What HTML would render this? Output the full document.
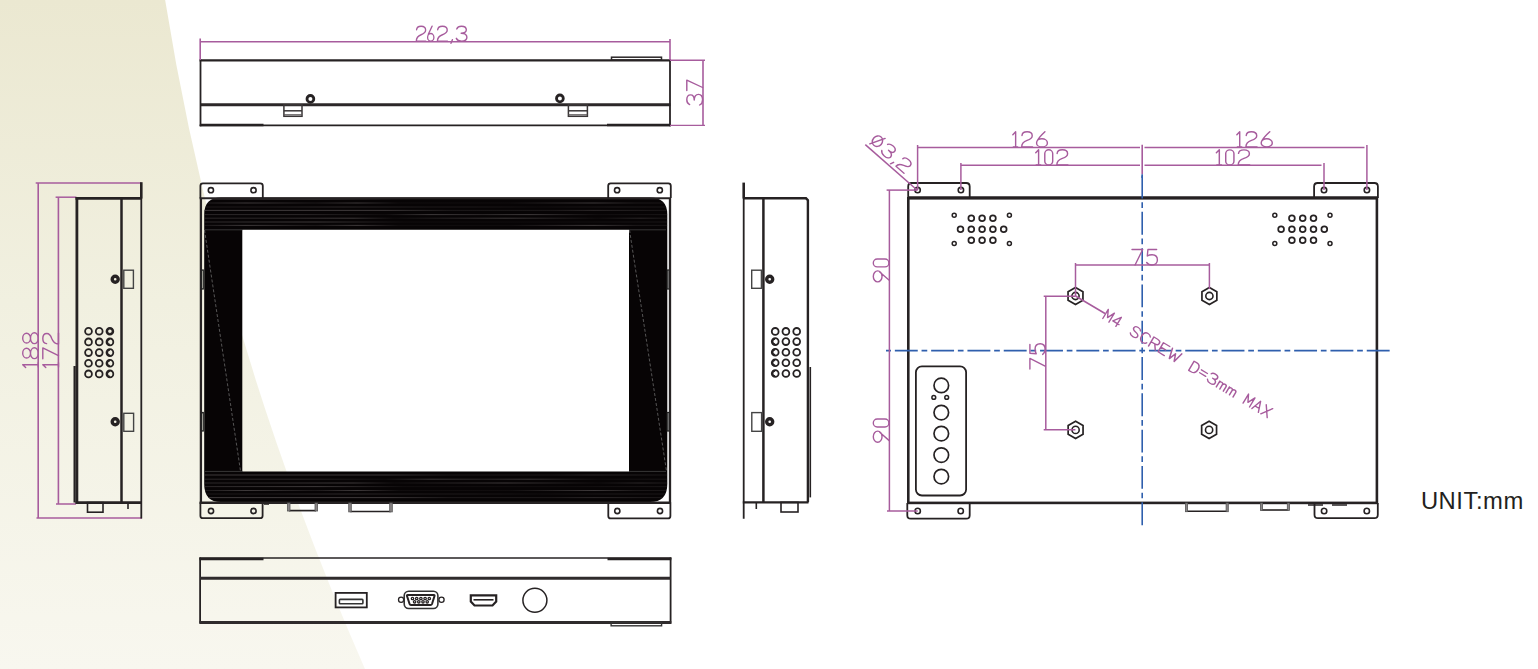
<!DOCTYPE html>
<html><head><meta charset="utf-8"><title>Monitor dimensions</title>
<style>html,body{margin:0;padding:0;background:#fff;width:1538px;height:669px;overflow:hidden;font-family:"Liberation Sans",sans-serif;}</style>
</head><body>
<svg width="1538" height="669" viewBox="0 0 1538 669" style="display:block"><defs><linearGradient id="bg" x1="0" y1="0" x2="0" y2="1"><stop offset="0" stop-color="#ebe8d1"/><stop offset="0.45" stop-color="#f1f0e0"/><stop offset="1" stop-color="#f8f7ef"/></linearGradient></defs>
<rect x="0" y="0" width="1538" height="669" fill="#ffffff"/>
<path d="M0,0L165.13,0Q218.41,334.5 364.98,669L0,669Z" fill="url(#bg)"/>
<line x1="199.6" y1="60.3" x2="670.8" y2="60.3" stroke="#262223" stroke-width="2.2" />
<line x1="200.5" y1="104.8" x2="670.5" y2="104.8" stroke="#2c2829" stroke-width="2.9" />
<line x1="199.6" y1="125.4" x2="670.8" y2="125.4" stroke="#262223" stroke-width="1.6" />
<line x1="200" y1="125" x2="263.5" y2="125" stroke="#262223" stroke-width="2.6" />
<line x1="607" y1="125" x2="670.5" y2="125" stroke="#262223" stroke-width="2.6" />
<line x1="200.5" y1="59.3" x2="200.5" y2="126.3" stroke="#262223" stroke-width="1.8" />
<line x1="670" y1="59.3" x2="670" y2="126.3" stroke="#262223" stroke-width="1.8" />
<circle cx="310.4" cy="98.9" r="3.4" stroke="#262223" stroke-width="2.8" fill="none"/>
<circle cx="559.9" cy="98.4" r="3.4" stroke="#262223" stroke-width="2.8" fill="none"/>
<rect x="283.9" y="104.8" width="18.1" height="11.5" rx="0" stroke="#3a3637" stroke-width="1.5" fill="none"/>
<line x1="283.9" y1="110.8" x2="302" y2="110.8" stroke="#3a3637" stroke-width="1.5" />
<line x1="283.9" y1="114.8" x2="302" y2="114.8" stroke="#5a5657" stroke-width="1.2" />
<rect x="568.4" y="104.8" width="19" height="11.5" rx="0" stroke="#3a3637" stroke-width="1.5" fill="none"/>
<line x1="568.4" y1="110.8" x2="587.4" y2="110.8" stroke="#3a3637" stroke-width="1.5" />
<line x1="568.4" y1="114.8" x2="587.4" y2="114.8" stroke="#5a5657" stroke-width="1.2" />
<rect x="611.5" y="57.2" width="50" height="2.8" rx="0" stroke="#2a2627" stroke-width="1.5" fill="none"/>
<line x1="200.2" y1="41.7" x2="670" y2="41.7" stroke="#a75c9d" stroke-width="1.6" />
<line x1="200.2" y1="38.5" x2="200.2" y2="60" stroke="#a75c9d" stroke-width="1.6" />
<line x1="670" y1="39" x2="670" y2="60" stroke="#a75c9d" stroke-width="1.6" />
<g stroke="#a75c9d" fill="none" stroke-linecap="round" stroke-linejoin="round"><path transform="translate(416.3,41.2) scale(1.3714,1.5000)" d="M0.2,-7.6C0.3,-9.2 1.6,-10 3.5,-10C5.6,-10 6.8,-9 6.8,-7.4C6.8,-5.7 5.3,-4.9 3.5,-4.3C1.3,-3.5 0,-2.5 0,0L7,0" stroke-width="0.976"/><path transform="translate(427.6,41.2) scale(1.2600,1.5000)" d="M3.6,-10L0.5,-4.6M0,-2.55A2.5,2.55 0 1 0 5,-2.55A2.5,2.55 0 1 0 0,-2.55Z" stroke-width="1.018"/><path transform="translate(437.4,41.2) scale(1.4429,1.5000)" d="M0.2,-7.6C0.3,-9.2 1.6,-10 3.5,-10C5.6,-10 6.8,-9 6.8,-7.4C6.8,-5.7 5.3,-4.9 3.5,-4.3C1.3,-3.5 0,-2.5 0,0L7,0" stroke-width="0.952"/><path transform="translate(450.5,41.2) scale(1.5714,1.5000)" d="M1.2,-1L0.3,1.4" stroke-width="0.912"/><path transform="translate(456.3,41.2) scale(1.4722,1.5000)" d="M0.3,-8.2C0.8,-9.5 2,-10 3.5,-10C5.5,-10 6.8,-9.1 6.8,-7.6C6.8,-6.1 5.5,-5.3 3.3,-5.3C5.8,-5.3 7.2,-4.3 7.2,-2.6C7.2,-1 5.8,0 3.6,0C1.8,0 0.6,-0.7 0,-1.9" stroke-width="0.942"/></g>
<line x1="703" y1="60.3" x2="703" y2="125.4" stroke="#a75c9d" stroke-width="1.6" />
<line x1="670" y1="60.3" x2="705" y2="60.3" stroke="#a75c9d" stroke-width="1.4" />
<line x1="670" y1="125.4" x2="705" y2="125.4" stroke="#a75c9d" stroke-width="1.4" />
<g transform="translate(702.6,105) rotate(-90) scale(1.4821,1.5800)" stroke="#a75c9d" stroke-width="0.915" fill="none" stroke-linecap="round" stroke-linejoin="round"><path transform="translate(0,0)" d="M0.3,-8.2C0.8,-9.5 2,-10 3.5,-10C5.5,-10 6.8,-9.1 6.8,-7.6C6.8,-6.1 5.5,-5.3 3.3,-5.3C5.8,-5.3 7.2,-4.3 7.2,-2.6C7.2,-1 5.8,0 3.6,0C1.8,0 0.6,-0.7 0,-1.9"/><path transform="translate(9.8,0)" d="M0,-10L7,-10L2,0"/></g>
<line x1="38.2" y1="183" x2="38.2" y2="518.1" stroke="#a75c9d" stroke-width="1.6" />
<line x1="35.7" y1="183" x2="141.4" y2="183" stroke="#a75c9d" stroke-width="1.5" />
<line x1="36.5" y1="518.1" x2="142" y2="518.1" stroke="#a75c9d" stroke-width="1.5" />
<line x1="58.4" y1="197.2" x2="58.4" y2="504" stroke="#a75c9d" stroke-width="1.6" />
<line x1="55.6" y1="197.2" x2="76.4" y2="197.2" stroke="#a75c9d" stroke-width="1.5" />
<line x1="56" y1="504" x2="76" y2="504" stroke="#a75c9d" stroke-width="1.5" />
<g transform="translate(38.3,367.7) rotate(-90) scale(1.5625,1.5600)" stroke="#a75c9d" stroke-width="0.897" fill="none" stroke-linecap="round" stroke-linejoin="round"><path transform="translate(0,0)" d="M0.1,-8.1L1.9,-10L1.9,0M0.4,0L3.2,0"/><path transform="translate(5.8,0)" d="M3.5,-10A3.1,2.5 0 1 0 3.5,-5A3.1,2.5 0 1 0 3.5,-10ZM3.5,-5A3.5,2.5 0 1 0 3.5,0A3.5,2.5 0 1 0 3.5,-5Z"/><path transform="translate(15.4,0)" d="M3.5,-10A3.1,2.5 0 1 0 3.5,-5A3.1,2.5 0 1 0 3.5,-10ZM3.5,-5A3.5,2.5 0 1 0 3.5,0A3.5,2.5 0 1 0 3.5,-5Z"/></g>
<g transform="translate(58.5,367.7) rotate(-90) scale(1.5402,1.5700)" stroke="#a75c9d" stroke-width="0.900" fill="none" stroke-linecap="round" stroke-linejoin="round"><path transform="translate(0,0)" d="M0.1,-8.1L1.9,-10L1.9,0M0.4,0L3.2,0"/><path transform="translate(5.8,0)" d="M0,-10L7,-10L2,0"/><path transform="translate(15.4,0)" d="M0.2,-7.6C0.3,-9.2 1.6,-10 3.5,-10C5.6,-10 6.8,-9 6.8,-7.4C6.8,-5.7 5.3,-4.9 3.5,-4.3C1.3,-3.5 0,-2.5 0,0L7,0"/></g>
<line x1="76.9" y1="197" x2="76.9" y2="503.5" stroke="#262223" stroke-width="2.8" />
<line x1="74.6" y1="366" x2="74.6" y2="502.5" stroke="#262223" stroke-width="2.2" />
<line x1="75.5" y1="198.4" x2="141.4" y2="198.4" stroke="#262223" stroke-width="2.6" />
<line x1="141.3" y1="182.2" x2="141.3" y2="198.5" stroke="#262223" stroke-width="2.6" />
<line x1="141.3" y1="198" x2="141.3" y2="518.5" stroke="#262223" stroke-width="1.8" />
<line x1="121.5" y1="197.7" x2="121.5" y2="503" stroke="#262223" stroke-width="2.5" />
<line x1="75.5" y1="502.6" x2="142" y2="502.6" stroke="#262223" stroke-width="2.6" />
<circle cx="115.2" cy="279.3" r="3" stroke="#262223" stroke-width="3.4" fill="none"/>
<circle cx="115.2" cy="421.8" r="3" stroke="#262223" stroke-width="3.4" fill="none"/>
<rect x="123.8" y="270.2" width="9.6" height="18.1" rx="0" stroke="#444" stroke-width="1.4" fill="none"/>
<rect x="123.8" y="413.3" width="9.8" height="18" rx="0" stroke="#444" stroke-width="1.4" fill="none"/>
<circle cx="88.5" cy="331.2" r="3.4" stroke="#262223" stroke-width="1.8" fill="none"/>
<circle cx="99.2" cy="331.2" r="3.4" stroke="#262223" stroke-width="1.8" fill="none"/>
<circle cx="109.9" cy="331.2" r="3.4" stroke="#262223" stroke-width="1.8" fill="none"/>
<path d="M109.9,328.6A2.6,2.6 0 0 0 109.9,333.8" stroke="#262223" stroke-width="1.6" fill="none" />
<path d="M109.9,328.6A2.6,2.6 0 0 1 109.9,333.8" stroke="#262223" stroke-width="1.6" fill="none" />
<circle cx="88.5" cy="341.9" r="3.4" stroke="#262223" stroke-width="1.8" fill="none"/>
<circle cx="99.2" cy="341.9" r="3.4" stroke="#262223" stroke-width="1.8" fill="none"/>
<circle cx="109.9" cy="341.9" r="3.4" stroke="#262223" stroke-width="1.8" fill="none"/>
<path d="M109.9,339.3A2.6,2.6 0 0 0 109.9,344.5" stroke="#262223" stroke-width="1.6" fill="none" />
<circle cx="88.5" cy="352.6" r="3.4" stroke="#262223" stroke-width="1.8" fill="none"/>
<circle cx="99.2" cy="352.6" r="3.4" stroke="#262223" stroke-width="1.8" fill="none"/>
<circle cx="109.9" cy="352.6" r="3.4" stroke="#262223" stroke-width="1.8" fill="none"/>
<path d="M109.9,350A2.6,2.6 0 0 0 109.9,355.2" stroke="#262223" stroke-width="1.6" fill="none" />
<circle cx="88.5" cy="363.2" r="3.4" stroke="#262223" stroke-width="1.8" fill="none"/>
<circle cx="99.2" cy="363.2" r="3.4" stroke="#262223" stroke-width="1.8" fill="none"/>
<circle cx="109.9" cy="363.2" r="3.4" stroke="#262223" stroke-width="1.8" fill="none"/>
<path d="M109.9,360.6A2.6,2.6 0 0 0 109.9,365.8" stroke="#262223" stroke-width="1.6" fill="none" />
<circle cx="88.5" cy="373.9" r="3.4" stroke="#262223" stroke-width="1.8" fill="none"/>
<circle cx="99.2" cy="373.9" r="3.4" stroke="#262223" stroke-width="1.8" fill="none"/>
<circle cx="109.9" cy="373.9" r="3.4" stroke="#262223" stroke-width="1.8" fill="none"/>
<path d="M109.9,371.3A2.6,2.6 0 0 0 109.9,376.5" stroke="#262223" stroke-width="1.6" fill="none" />
<rect x="87.5" y="502.6" width="15.5" height="9.6" rx="0" stroke="#262223" stroke-width="1.6" fill="none"/>
<line x1="128" y1="502.6" x2="128" y2="509" stroke="#262223" stroke-width="1.6" />
<path d="M200.4,198L200.4,185.8Q200.4,183.3 202.9,183.3L260.3,183.3Q262.8,183.3 262.8,185.8L262.8,198" stroke="#262223" stroke-width="1.8" fill="none" />
<path d="M608.2,198L608.2,185.8Q608.2,183.3 610.7,183.3L668.3,183.3Q670.8,183.3 670.8,185.8L670.8,198" stroke="#262223" stroke-width="1.8" fill="none" />
<path d="M200.4,502.5L200.4,515.7Q200.4,518.2 202.9,518.2L260.1,518.2Q262.6,518.2 262.6,515.7L262.6,502.5" stroke="#262223" stroke-width="1.8" fill="none" />
<path d="M608.3,502.5L608.3,515.9Q608.3,518.4 610.8,518.4L667.9,518.4Q670.4,518.4 670.4,515.9L670.4,502.5" stroke="#262223" stroke-width="1.8" fill="none" />
<circle cx="210.9" cy="190.2" r="2.6" stroke="#262223" stroke-width="1.6" fill="none"/>
<circle cx="253.5" cy="190.2" r="2.6" stroke="#262223" stroke-width="1.6" fill="none"/>
<circle cx="617.1" cy="190.2" r="2.6" stroke="#262223" stroke-width="1.6" fill="none"/>
<circle cx="659.8" cy="190.2" r="2.6" stroke="#262223" stroke-width="1.6" fill="none"/>
<circle cx="211" cy="511" r="2.6" stroke="#262223" stroke-width="1.6" fill="none"/>
<circle cx="253.5" cy="511" r="2.6" stroke="#262223" stroke-width="1.6" fill="none"/>
<circle cx="617.3" cy="511" r="2.6" stroke="#262223" stroke-width="1.6" fill="none"/>
<circle cx="660" cy="511" r="2.6" stroke="#262223" stroke-width="1.6" fill="none"/>
<clipPath id="bzc"><path d="M221,197.5L650,197.5Q667.3,197.5 667.3,214.5L667.3,484Q667.3,502 650,502L221,502Q204.2,502 204.2,484L204.2,214.5Q204.2,197.5 221,197.5Z"/></clipPath>
<path d="M221,197.5L650,197.5Q667.3,197.5 667.3,214.5L667.3,484Q667.3,502 650,502L221,502Q204.2,502 204.2,484L204.2,214.5Q204.2,197.5 221,197.5ZM242.3,229.8L242.3,471.4L629,471.4L629,229.8Z" fill="#070405" fill-rule="evenodd"/>
<linearGradient id="sg0" gradientUnits="userSpaceOnUse" x1="204" y1="0" x2="668" y2="0"><stop offset="0.00" stop-color="#4a4546" stop-opacity="0.6"/><stop offset="0.24" stop-color="#4a4546" stop-opacity="0.9"/><stop offset="0.43" stop-color="#4a4546" stop-opacity="0.15"/><stop offset="0.65" stop-color="#4a4546" stop-opacity="0.15"/><stop offset="0.79" stop-color="#4a4546" stop-opacity="0.15"/><stop offset="1" stop-color="#4a4546" stop-opacity="0.3"/></linearGradient>
<linearGradient id="sg1" gradientUnits="userSpaceOnUse" x1="204" y1="0" x2="668" y2="0"><stop offset="0.00" stop-color="#4a4546" stop-opacity="0.35"/><stop offset="0.09" stop-color="#4a4546" stop-opacity="0.9"/><stop offset="0.24" stop-color="#4a4546" stop-opacity="0.35"/><stop offset="0.33" stop-color="#4a4546" stop-opacity="0.9"/><stop offset="0.42" stop-color="#4a4546" stop-opacity="0.15"/><stop offset="0.66" stop-color="#4a4546" stop-opacity="0.15"/><stop offset="0.84" stop-color="#4a4546" stop-opacity="0.9"/><stop offset="0.93" stop-color="#4a4546" stop-opacity="0.35"/><stop offset="1" stop-color="#4a4546" stop-opacity="0.3"/></linearGradient>
<linearGradient id="sg2" gradientUnits="userSpaceOnUse" x1="204" y1="0" x2="668" y2="0"><stop offset="0.00" stop-color="#4a4546" stop-opacity="0.35"/><stop offset="0.13" stop-color="#4a4546" stop-opacity="0.35"/><stop offset="0.30" stop-color="#4a4546" stop-opacity="0.6"/><stop offset="0.48" stop-color="#4a4546" stop-opacity="0.35"/><stop offset="0.57" stop-color="#4a4546" stop-opacity="0.35"/><stop offset="0.72" stop-color="#4a4546" stop-opacity="0.15"/><stop offset="0.89" stop-color="#4a4546" stop-opacity="0.35"/><stop offset="1" stop-color="#4a4546" stop-opacity="0.3"/></linearGradient>
<linearGradient id="sg3" gradientUnits="userSpaceOnUse" x1="204" y1="0" x2="668" y2="0"><stop offset="0.00" stop-color="#4a4546" stop-opacity="0.9"/><stop offset="0.21" stop-color="#4a4546" stop-opacity="0.9"/><stop offset="0.39" stop-color="#4a4546" stop-opacity="0.9"/><stop offset="0.53" stop-color="#4a4546" stop-opacity="0.35"/><stop offset="0.75" stop-color="#4a4546" stop-opacity="0.35"/><stop offset="0.84" stop-color="#4a4546" stop-opacity="0.6"/><stop offset="1" stop-color="#4a4546" stop-opacity="0.3"/></linearGradient>
<linearGradient id="sg4" gradientUnits="userSpaceOnUse" x1="204" y1="0" x2="668" y2="0"><stop offset="0.00" stop-color="#4a4546" stop-opacity="0.6"/><stop offset="0.20" stop-color="#4a4546" stop-opacity="0.6"/><stop offset="0.39" stop-color="#4a4546" stop-opacity="0.15"/><stop offset="0.49" stop-color="#4a4546" stop-opacity="0.9"/><stop offset="0.60" stop-color="#4a4546" stop-opacity="0.6"/><stop offset="0.70" stop-color="#4a4546" stop-opacity="0.9"/><stop offset="0.85" stop-color="#4a4546" stop-opacity="0.15"/><stop offset="1" stop-color="#4a4546" stop-opacity="0.3"/></linearGradient>
<linearGradient id="sg5" gradientUnits="userSpaceOnUse" x1="204" y1="0" x2="668" y2="0"><stop offset="0.00" stop-color="#4a4546" stop-opacity="0.6"/><stop offset="0.14" stop-color="#4a4546" stop-opacity="0.6"/><stop offset="0.32" stop-color="#4a4546" stop-opacity="0.9"/><stop offset="0.41" stop-color="#4a4546" stop-opacity="0.15"/><stop offset="0.65" stop-color="#4a4546" stop-opacity="0.9"/><stop offset="0.85" stop-color="#4a4546" stop-opacity="0.15"/><stop offset="0.94" stop-color="#4a4546" stop-opacity="0.6"/><stop offset="1" stop-color="#4a4546" stop-opacity="0.3"/></linearGradient>
<g clip-path="url(#bzc)">
<line x1="204" y1="199.2" x2="668" y2="199.2" stroke="url(#sg0)" stroke-width="0.9"/>
<line x1="204" y1="203" x2="668" y2="203" stroke="url(#sg1)" stroke-width="0.9"/>
<line x1="204" y1="207" x2="668" y2="207" stroke="url(#sg2)" stroke-width="0.9"/>
<line x1="204" y1="210.4" x2="668" y2="210.4" stroke="url(#sg3)" stroke-width="0.9"/>
<line x1="204" y1="214.6" x2="668" y2="214.6" stroke="url(#sg4)" stroke-width="0.9"/>
<line x1="204" y1="218.2" x2="668" y2="218.2" stroke="url(#sg5)" stroke-width="0.9"/>
<line x1="204" y1="222" x2="668" y2="222" stroke="url(#sg0)" stroke-width="0.9"/>
<line x1="204" y1="225.4" x2="668" y2="225.4" stroke="url(#sg1)" stroke-width="0.9"/>
<line x1="204" y1="475" x2="668" y2="475" stroke="url(#sg3)" stroke-width="0.9"/>
<line x1="204" y1="479.2" x2="668" y2="479.2" stroke="url(#sg4)" stroke-width="0.9"/>
<line x1="204" y1="483" x2="668" y2="483" stroke="url(#sg5)" stroke-width="0.9"/>
<line x1="204" y1="486.6" x2="668" y2="486.6" stroke="url(#sg0)" stroke-width="0.9"/>
<line x1="204" y1="490.5" x2="668" y2="490.5" stroke="url(#sg1)" stroke-width="0.9"/>
<line x1="204" y1="494" x2="668" y2="494" stroke="url(#sg2)" stroke-width="0.9"/>
<line x1="204" y1="497.6" x2="668" y2="497.6" stroke="url(#sg3)" stroke-width="0.9"/>
</g>
<line x1="204.5" y1="230" x2="240.5" y2="471" stroke="#777" stroke-width="0.7" stroke-dasharray="3 2"/>
<line x1="629.5" y1="230" x2="666.5" y2="471" stroke="#777" stroke-width="0.7" stroke-dasharray="3 2"/>
<line x1="205" y1="229.8" x2="242.3" y2="229.8" stroke="#444" stroke-width="0.8" />
<line x1="629" y1="229.8" x2="666" y2="229.8" stroke="#444" stroke-width="0.8" />
<line x1="205" y1="471.4" x2="242.3" y2="471.4" stroke="#444" stroke-width="0.8" />
<line x1="629" y1="471.4" x2="666" y2="471.4" stroke="#444" stroke-width="0.8" />
<line x1="199.6" y1="198.2" x2="671" y2="198.2" stroke="#262223" stroke-width="2" />
<line x1="199.6" y1="502.7" x2="671" y2="502.7" stroke="#262223" stroke-width="2.4" />
<line x1="200.9" y1="198" x2="200.9" y2="503" stroke="#262223" stroke-width="2.3" />
<line x1="670" y1="198" x2="670" y2="503" stroke="#262223" stroke-width="2.3" />
<rect x="201.5" y="270" width="1.8" height="19" rx="0" stroke="#222" stroke-width="1.2" fill="none"/>
<rect x="667.2" y="270" width="1.8" height="19" rx="0" stroke="#222" stroke-width="1.2" fill="none"/>
<rect x="201.5" y="412.5" width="1.8" height="18.5" rx="0" stroke="#222" stroke-width="1.2" fill="none"/>
<rect x="667.2" y="412.5" width="1.8" height="18.5" rx="0" stroke="#222" stroke-width="1.2" fill="none"/>
<line x1="288.9" y1="510.6" x2="316.1" y2="510.6" stroke="#262223" stroke-width="1.7" />
<rect x="287.4" y="503" width="2.6" height="8" rx="0" stroke="#555" stroke-width="0.8" fill="#8a8687"/>
<rect x="315" y="503" width="2.6" height="8" rx="0" stroke="#555" stroke-width="0.8" fill="#8a8687"/>
<line x1="350.2" y1="511.5" x2="390.8" y2="511.5" stroke="#262223" stroke-width="1.7" />
<rect x="348.7" y="503" width="2.6" height="8.9" rx="0" stroke="#555" stroke-width="0.8" fill="#8a8687"/>
<rect x="389.7" y="503" width="2.6" height="8.9" rx="0" stroke="#555" stroke-width="0.8" fill="#8a8687"/>
<line x1="264" y1="504" x2="269" y2="504" stroke="#262223" stroke-width="1.6" />
<line x1="743.7" y1="182.6" x2="743.7" y2="198.5" stroke="#262223" stroke-width="2.6" />
<line x1="743.7" y1="198" x2="743.7" y2="518.8" stroke="#262223" stroke-width="1.8" />
<path d="M743.7,198.3L806,198.3L807.9,200.2L807.9,502.3" stroke="#262223" stroke-width="2.4" fill="none" />
<line x1="763.4" y1="197.7" x2="763.4" y2="502.5" stroke="#262223" stroke-width="2.5" />
<line x1="810.3" y1="367" x2="810.3" y2="497.4" stroke="#262223" stroke-width="1.6" />
<line x1="742.8" y1="502.4" x2="808.5" y2="502.4" stroke="#262223" stroke-width="2.4" />
<rect x="751.7" y="270.2" width="9.7" height="18.1" rx="0" stroke="#444" stroke-width="1.4" fill="none"/>
<rect x="751.8" y="412.6" width="9.8" height="18.7" rx="0" stroke="#444" stroke-width="1.4" fill="none"/>
<circle cx="769.7" cy="279.3" r="3" stroke="#262223" stroke-width="3.4" fill="none"/>
<circle cx="769.7" cy="421.8" r="3" stroke="#262223" stroke-width="3.4" fill="none"/>
<circle cx="775.2" cy="331.4" r="3.4" stroke="#262223" stroke-width="1.8" fill="none"/>
<circle cx="785.9" cy="331.4" r="3.4" stroke="#262223" stroke-width="1.8" fill="none"/>
<circle cx="796.7" cy="331.4" r="3.4" stroke="#262223" stroke-width="1.8" fill="none"/>
<circle cx="775.2" cy="341.6" r="3.4" stroke="#262223" stroke-width="1.8" fill="none"/>
<path d="M775.2,339A2.6,2.6 0 0 0 775.2,344.2" stroke="#262223" stroke-width="1.6" fill="none" />
<circle cx="785.9" cy="341.6" r="3.4" stroke="#262223" stroke-width="1.8" fill="none"/>
<circle cx="796.7" cy="341.6" r="3.4" stroke="#262223" stroke-width="1.8" fill="none"/>
<circle cx="775.2" cy="352.2" r="3.4" stroke="#262223" stroke-width="1.8" fill="none"/>
<path d="M775.2,349.6A2.6,2.6 0 0 0 775.2,354.8" stroke="#262223" stroke-width="1.6" fill="none" />
<circle cx="785.9" cy="352.2" r="3.4" stroke="#262223" stroke-width="1.8" fill="none"/>
<circle cx="796.7" cy="352.2" r="3.4" stroke="#262223" stroke-width="1.8" fill="none"/>
<circle cx="775.2" cy="362.7" r="3.4" stroke="#262223" stroke-width="1.8" fill="none"/>
<path d="M775.2,360.1A2.6,2.6 0 0 0 775.2,365.3" stroke="#262223" stroke-width="1.6" fill="none" />
<circle cx="785.9" cy="362.7" r="3.4" stroke="#262223" stroke-width="1.8" fill="none"/>
<circle cx="796.7" cy="362.7" r="3.4" stroke="#262223" stroke-width="1.8" fill="none"/>
<circle cx="775.2" cy="373.5" r="3.4" stroke="#262223" stroke-width="1.8" fill="none"/>
<path d="M775.2,370.9A2.6,2.6 0 0 0 775.2,376.1" stroke="#262223" stroke-width="1.6" fill="none" />
<circle cx="785.9" cy="373.5" r="3.4" stroke="#262223" stroke-width="1.8" fill="none"/>
<circle cx="796.7" cy="373.5" r="3.4" stroke="#262223" stroke-width="1.8" fill="none"/>
<line x1="756.3" y1="502.4" x2="756.3" y2="509" stroke="#262223" stroke-width="1.6" />
<rect x="781" y="502.4" width="17" height="9.6" rx="0" stroke="#262223" stroke-width="1.6" fill="none"/>
<line x1="199.5" y1="558" x2="671.3" y2="558" stroke="#262223" stroke-width="1.6" />
<line x1="199.5" y1="559" x2="263.5" y2="559" stroke="#262223" stroke-width="2.6" />
<line x1="607.5" y1="559" x2="671.3" y2="559" stroke="#262223" stroke-width="2.6" />
<line x1="200.1" y1="557.5" x2="200.1" y2="623.6" stroke="#262223" stroke-width="1.8" />
<line x1="670.6" y1="557.5" x2="670.6" y2="623.6" stroke="#262223" stroke-width="1.8" />
<line x1="200" y1="578.2" x2="671" y2="578.2" stroke="#2f2b2c" stroke-width="3.1" />
<line x1="199.5" y1="622.5" x2="671.3" y2="622.5" stroke="#2f2b2c" stroke-width="3.1" />
<rect x="335.6" y="592.9" width="31.2" height="14.5" rx="0" stroke="#262223" stroke-width="1.8" fill="none"/>
<rect x="339.4" y="599.4" width="23.5" height="4.4" rx="0.8" stroke="#333" stroke-width="1.6" fill="none"/>
<circle cx="401.1" cy="599.8" r="2.6" stroke="#262223" stroke-width="1.3" fill="none"/>
<circle cx="441.5" cy="599.8" r="2.6" stroke="#262223" stroke-width="1.3" fill="none"/>
<rect x="404.2" y="591.2" width="33.7" height="17.3" rx="4.5" stroke="#333" stroke-width="1.6" fill="none"/>
<path d="M407.6,595L433.9,595Q434.8,595 434.5,596L432,604Q431.6,605 430.5,605L411,605Q409.9,605 409.6,604L407,596Q406.7,595 407.6,595Z" stroke="#262223" stroke-width="2" fill="none" />
<circle cx="412.5" cy="598.5" r="1.2" stroke="#262223" stroke-width="1.3" fill="none"/>
<circle cx="416.7" cy="598.5" r="1.2" stroke="#262223" stroke-width="1.3" fill="none"/>
<circle cx="420.9" cy="598.5" r="1.2" stroke="#262223" stroke-width="1.3" fill="none"/>
<circle cx="425.1" cy="598.5" r="1.2" stroke="#262223" stroke-width="1.3" fill="none"/>
<circle cx="429.3" cy="598.5" r="1.2" stroke="#262223" stroke-width="1.3" fill="none"/>
<circle cx="414.6" cy="601.8" r="1.2" stroke="#262223" stroke-width="1.3" fill="none"/>
<circle cx="418.8" cy="601.8" r="1.2" stroke="#262223" stroke-width="1.3" fill="none"/>
<circle cx="423" cy="601.8" r="1.2" stroke="#262223" stroke-width="1.3" fill="none"/>
<circle cx="427.2" cy="601.8" r="1.2" stroke="#262223" stroke-width="1.3" fill="none"/>
<path d="M470.8,595.3L496.2,595.3L496.2,601.5L492.5,605.5L474.5,605.5L470.8,601.5Z" stroke="#262223" stroke-width="2.2" fill="none" />
<line x1="473.5" y1="599.8" x2="493.5" y2="599.8" stroke="#262223" stroke-width="1.6" />
<circle cx="534.9" cy="600.2" r="12" stroke="#262223" stroke-width="1.5" fill="none"/>
<rect x="611.1" y="622.4" width="50.5" height="3.4" rx="0" stroke="#333" stroke-width="1.4" fill="none"/>
<rect x="908.3" y="198.3" width="468.6" height="304.6" rx="0" stroke="#262223" stroke-width="2.6" fill="none"/>
<line x1="908" y1="197" x2="1377" y2="197" stroke="#262223" stroke-width="1.4" />
<path d="M908.2,198L908.2,186.5Q908.2,183 911.7,183L966.2,183Q969.7,183 969.7,186.5L969.7,198" stroke="#262223" stroke-width="1.8" fill="none" />
<path d="M1314.1,198L1314.1,186.5Q1314.1,183 1317.6,183L1374.4,183Q1377.9,183 1377.9,186.5L1377.9,198" stroke="#262223" stroke-width="1.8" fill="none" />
<path d="M907.3,503L907.3,515.2Q907.3,518.7 910.8,518.7L966.2,518.7Q969.7,518.7 969.7,515.2L969.7,503" stroke="#262223" stroke-width="1.8" fill="none" />
<path d="M1314.5,503L1314.5,514.7Q1314.5,518.2 1318,518.2L1374.3,518.2Q1377.8,518.2 1377.8,514.7L1377.8,503" stroke="#262223" stroke-width="1.8" fill="none" />
<circle cx="917.6" cy="190.1" r="2.7" stroke="#262223" stroke-width="1.6" fill="none"/>
<circle cx="960.9" cy="190.1" r="2.7" stroke="#262223" stroke-width="1.6" fill="none"/>
<circle cx="1324" cy="190.1" r="2.7" stroke="#262223" stroke-width="1.6" fill="none"/>
<circle cx="1366.9" cy="190.1" r="2.7" stroke="#262223" stroke-width="1.6" fill="none"/>
<circle cx="917.7" cy="511" r="2.7" stroke="#262223" stroke-width="1.6" fill="none"/>
<circle cx="960.7" cy="511" r="2.7" stroke="#262223" stroke-width="1.6" fill="none"/>
<circle cx="1324.1" cy="511" r="2.7" stroke="#262223" stroke-width="1.6" fill="none"/>
<circle cx="1366.8" cy="511" r="2.7" stroke="#262223" stroke-width="1.6" fill="none"/>
<circle cx="954.2" cy="215.2" r="2" stroke="#262223" stroke-width="1.5" fill="none"/>
<circle cx="1009.4" cy="215.2" r="2" stroke="#262223" stroke-width="1.5" fill="none"/>
<circle cx="954.2" cy="243.4" r="2" stroke="#262223" stroke-width="1.5" fill="none"/>
<circle cx="1009.4" cy="243.4" r="2" stroke="#262223" stroke-width="1.5" fill="none"/>
<circle cx="960.5" cy="229.2" r="2.9" stroke="#262223" stroke-width="1.7" fill="none"/>
<circle cx="971.3" cy="229.2" r="2.9" stroke="#262223" stroke-width="1.7" fill="none"/>
<circle cx="982.1" cy="229.2" r="2.9" stroke="#262223" stroke-width="1.7" fill="none"/>
<circle cx="992.9" cy="229.2" r="2.9" stroke="#262223" stroke-width="1.7" fill="none"/>
<circle cx="1003.7" cy="229.2" r="2.9" stroke="#262223" stroke-width="1.7" fill="none"/>
<circle cx="971.3" cy="218.3" r="2.9" stroke="#262223" stroke-width="1.7" fill="none"/>
<circle cx="971.3" cy="240.3" r="2.9" stroke="#262223" stroke-width="1.7" fill="none"/>
<circle cx="982.1" cy="218.3" r="2.9" stroke="#262223" stroke-width="1.7" fill="none"/>
<circle cx="982.1" cy="240.3" r="2.9" stroke="#262223" stroke-width="1.7" fill="none"/>
<circle cx="992.9" cy="218.3" r="2.9" stroke="#262223" stroke-width="1.7" fill="none"/>
<circle cx="992.9" cy="240.3" r="2.9" stroke="#262223" stroke-width="1.7" fill="none"/>
<circle cx="1274.8" cy="215.2" r="2" stroke="#262223" stroke-width="1.5" fill="none"/>
<circle cx="1330" cy="215.2" r="2" stroke="#262223" stroke-width="1.5" fill="none"/>
<circle cx="1274.8" cy="243.4" r="2" stroke="#262223" stroke-width="1.5" fill="none"/>
<circle cx="1330" cy="243.4" r="2" stroke="#262223" stroke-width="1.5" fill="none"/>
<circle cx="1281.1" cy="229.2" r="2.9" stroke="#262223" stroke-width="1.7" fill="none"/>
<circle cx="1291.9" cy="229.2" r="2.9" stroke="#262223" stroke-width="1.7" fill="none"/>
<circle cx="1302.7" cy="229.2" r="2.9" stroke="#262223" stroke-width="1.7" fill="none"/>
<circle cx="1313.5" cy="229.2" r="2.9" stroke="#262223" stroke-width="1.7" fill="none"/>
<circle cx="1324.3" cy="229.2" r="2.9" stroke="#262223" stroke-width="1.7" fill="none"/>
<circle cx="1291.9" cy="218.3" r="2.9" stroke="#262223" stroke-width="1.7" fill="none"/>
<circle cx="1291.9" cy="240.3" r="2.9" stroke="#262223" stroke-width="1.7" fill="none"/>
<circle cx="1302.7" cy="218.3" r="2.9" stroke="#262223" stroke-width="1.7" fill="none"/>
<circle cx="1302.7" cy="240.3" r="2.9" stroke="#262223" stroke-width="1.7" fill="none"/>
<circle cx="1313.5" cy="218.3" r="2.9" stroke="#262223" stroke-width="1.7" fill="none"/>
<circle cx="1313.5" cy="240.3" r="2.9" stroke="#262223" stroke-width="1.7" fill="none"/>
<rect x="915.9" y="366.3" width="50.2" height="129.2" rx="6" stroke="#262223" stroke-width="1.8" fill="none"/>
<circle cx="941.3" cy="385.4" r="7.3" stroke="#262223" stroke-width="1.7" fill="none"/>
<circle cx="941.3" cy="412.6" r="7.3" stroke="#262223" stroke-width="1.7" fill="none"/>
<circle cx="941.3" cy="433.6" r="7.3" stroke="#262223" stroke-width="1.7" fill="none"/>
<circle cx="941.3" cy="455.1" r="7.3" stroke="#262223" stroke-width="1.7" fill="none"/>
<circle cx="941.3" cy="476.6" r="7.3" stroke="#262223" stroke-width="1.7" fill="none"/>
<circle cx="933.8" cy="397.4" r="1.9" stroke="#262223" stroke-width="1.5" fill="none"/>
<circle cx="946.7" cy="397.4" r="1.9" stroke="#262223" stroke-width="1.5" fill="none"/>
<polygon points="1075.5,304.6 1068.05,300.3 1068.05,291.7 1075.5,287.4 1082.95,291.7 1082.95,300.3" stroke="#262223" stroke-width="1.7" fill="none"/>
<circle cx="1075.5" cy="296" r="3.6" stroke="#262223" stroke-width="1.6" fill="none"/>
<polygon points="1209.4,304.6 1201.95,300.3 1201.95,291.7 1209.4,287.4 1216.85,291.7 1216.85,300.3" stroke="#262223" stroke-width="1.7" fill="none"/>
<circle cx="1209.4" cy="296" r="3.6" stroke="#262223" stroke-width="1.6" fill="none"/>
<polygon points="1075.6,438.5 1068.15,434.2 1068.15,425.6 1075.6,421.3 1083.05,425.6 1083.05,434.2" stroke="#262223" stroke-width="1.7" fill="none"/>
<circle cx="1075.6" cy="429.9" r="3.6" stroke="#262223" stroke-width="1.6" fill="none"/>
<polygon points="1209.1,438.5 1201.65,434.2 1201.65,425.6 1209.1,421.3 1216.55,425.6 1216.55,434.2" stroke="#262223" stroke-width="1.7" fill="none"/>
<circle cx="1209.1" cy="429.9" r="3.6" stroke="#262223" stroke-width="1.6" fill="none"/>
<line x1="1186.6" y1="511.3" x2="1227.1" y2="511.3" stroke="#262223" stroke-width="1.6" />
<rect x="1185.4" y="503" width="2.2" height="8.7" rx="0" stroke="#555" stroke-width="0.8" fill="#8a8687"/>
<rect x="1226.1" y="503" width="2.2" height="8.7" rx="0" stroke="#555" stroke-width="0.8" fill="#8a8687"/>
<line x1="1261.6" y1="510" x2="1288.3" y2="510" stroke="#262223" stroke-width="1.6" />
<rect x="1260.4" y="503" width="2.2" height="7.4" rx="0" stroke="#555" stroke-width="0.8" fill="#8a8687"/>
<rect x="1287.3" y="503" width="2.2" height="7.4" rx="0" stroke="#555" stroke-width="0.8" fill="#8a8687"/>
<line x1="1308" y1="505" x2="1323" y2="505" stroke="#262223" stroke-width="1.5" />
<line x1="1332" y1="505" x2="1347" y2="505" stroke="#262223" stroke-width="1.5" />
<line x1="886" y1="350.6" x2="1391.5" y2="350.6" stroke="#2f5fad" stroke-width="1.6" stroke-dasharray="22.9 3.8 5.7 3.9" stroke-dashoffset="27.45"/>
<line x1="1142.2" y1="174.4" x2="1142.2" y2="525.5" stroke="#2f5fad" stroke-width="1.6" stroke-dasharray="22.9 3.8 5.7 3.9" stroke-dashoffset="35.15"/>
<line x1="1142.2" y1="144.7" x2="1142.2" y2="174.3" stroke="#a75c9d" stroke-width="1.6" />
<line x1="1142.2" y1="174.3" x2="1142.2" y2="178" stroke="#2f5fad" stroke-width="1.6" />
<line x1="917.6" y1="147.4" x2="1140" y2="147.4" stroke="#a75c9d" stroke-width="1.5" />
<line x1="1144.5" y1="147.4" x2="1364.5" y2="147.4" stroke="#a75c9d" stroke-width="1.5" />
<line x1="917.6" y1="145" x2="917.6" y2="190" stroke="#a75c9d" stroke-width="1.5" />
<line x1="1366.9" y1="145" x2="1366.9" y2="190" stroke="#a75c9d" stroke-width="1.5" />
<line x1="960.9" y1="165.3" x2="1140" y2="165.3" stroke="#a75c9d" stroke-width="1.5" />
<line x1="1144.5" y1="165.3" x2="1321.5" y2="165.3" stroke="#a75c9d" stroke-width="1.5" />
<line x1="960.9" y1="163" x2="960.9" y2="190" stroke="#a75c9d" stroke-width="1.5" />
<line x1="1324" y1="163" x2="1324" y2="190" stroke="#a75c9d" stroke-width="1.5" />
<g transform="translate(1012.7,147) rotate(0) scale(1.5491,1.5200)" stroke="#a75c9d" stroke-width="0.912" fill="none" stroke-linecap="round" stroke-linejoin="round"><path transform="translate(0,0)" d="M0.1,-8.1L1.9,-10L1.9,0M0.4,0L3.2,0"/><path transform="translate(5.8,0)" d="M0.2,-7.6C0.3,-9.2 1.6,-10 3.5,-10C5.6,-10 6.8,-9 6.8,-7.4C6.8,-5.7 5.3,-4.9 3.5,-4.3C1.3,-3.5 0,-2.5 0,0L7,0"/><path transform="translate(15.4,0)" d="M5.4,-10C3.5,-8.2 1.6,-6.2 0.5,-4.2M0,-2.7A3.5,2.7 0 1 0 7,-2.7A3.5,2.7 0 1 0 0,-2.7Z"/></g>
<g transform="translate(1236.7,147) rotate(0) scale(1.5893,1.5200)" stroke="#a75c9d" stroke-width="0.901" fill="none" stroke-linecap="round" stroke-linejoin="round"><path transform="translate(0,0)" d="M0.1,-8.1L1.9,-10L1.9,0M0.4,0L3.2,0"/><path transform="translate(5.8,0)" d="M0.2,-7.6C0.3,-9.2 1.6,-10 3.5,-10C5.6,-10 6.8,-9 6.8,-7.4C6.8,-5.7 5.3,-4.9 3.5,-4.3C1.3,-3.5 0,-2.5 0,0L7,0"/><path transform="translate(15.4,0)" d="M5.4,-10C3.5,-8.2 1.6,-6.2 0.5,-4.2M0,-2.7A3.5,2.7 0 1 0 7,-2.7A3.5,2.7 0 1 0 0,-2.7Z"/></g>
<g transform="translate(1035.6,165) rotate(0) scale(1.5833,1.5200)" stroke="#a75c9d" stroke-width="0.902" fill="none" stroke-linecap="round" stroke-linejoin="round"><path transform="translate(0,0)" d="M0.1,-8.1L1.9,-10L1.9,0M0.4,0L3.2,0"/><path transform="translate(5.8,0)" d="M0,-7.5A2.5,2.5 0 0 1 5,-7.5L5,-2.5A2.5,2.5 0 0 1 0,-2.5Z"/><path transform="translate(13.4,0)" d="M0.2,-7.6C0.3,-9.2 1.6,-10 3.5,-10C5.6,-10 6.8,-9 6.8,-7.4C6.8,-5.7 5.3,-4.9 3.5,-4.3C1.3,-3.5 0,-2.5 0,0L7,0"/></g>
<g transform="translate(1216.2,165) rotate(0) scale(1.6422,1.5200)" stroke="#a75c9d" stroke-width="0.886" fill="none" stroke-linecap="round" stroke-linejoin="round"><path transform="translate(0,0)" d="M0.1,-8.1L1.9,-10L1.9,0M0.4,0L3.2,0"/><path transform="translate(5.8,0)" d="M0,-7.5A2.5,2.5 0 0 1 5,-7.5L5,-2.5A2.5,2.5 0 0 1 0,-2.5Z"/><path transform="translate(13.4,0)" d="M0.2,-7.6C0.3,-9.2 1.6,-10 3.5,-10C5.6,-10 6.8,-9 6.8,-7.4C6.8,-5.7 5.3,-4.9 3.5,-4.3C1.3,-3.5 0,-2.5 0,0L7,0"/></g>
<line x1="889.4" y1="190.1" x2="889.4" y2="511" stroke="#a75c9d" stroke-width="1.5" />
<line x1="886.6" y1="190.1" x2="917.6" y2="190.1" stroke="#a75c9d" stroke-width="1.5" />
<line x1="887" y1="511" x2="917.7" y2="511" stroke="#a75c9d" stroke-width="1.5" />
<g transform="translate(888.9,281.9) rotate(-90) scale(1.5685,1.5600)" stroke="#a75c9d" stroke-width="0.895" fill="none" stroke-linecap="round" stroke-linejoin="round"><path transform="translate(0,0)" d="M1.2,0L6.3,-5.9M7,-7.2A3.5,2.8 0 1 0 0,-7.2A3.5,2.8 0 1 0 7,-7.2Z"/><path transform="translate(9.6,0)" d="M0,-7.5A2.5,2.5 0 0 1 5,-7.5L5,-2.5A2.5,2.5 0 0 1 0,-2.5Z"/></g>
<g transform="translate(888.9,442.3) rotate(-90) scale(1.5959,1.5600)" stroke="#a75c9d" stroke-width="0.887" fill="none" stroke-linecap="round" stroke-linejoin="round"><path transform="translate(0,0)" d="M1.2,0L6.3,-5.9M7,-7.2A3.5,2.8 0 1 0 0,-7.2A3.5,2.8 0 1 0 7,-7.2Z"/><path transform="translate(9.6,0)" d="M0,-7.5A2.5,2.5 0 0 1 5,-7.5L5,-2.5A2.5,2.5 0 0 1 0,-2.5Z"/></g>
<line x1="865.3" y1="144.6" x2="917.3" y2="190.2" stroke="#a75c9d" stroke-width="1.5" />
<g transform="translate(869.1,142.6) rotate(41.24) scale(1.5268,1.3200)" stroke="#a75c9d" stroke-width="0.986" fill="none" stroke-linecap="round" stroke-linejoin="round"><path transform="translate(0,0)" d="M3.5,-9.2A3.2,4.2 0 1 0 3.5,-0.8A3.2,4.2 0 1 0 3.5,-9.2ZM0.9,0.4L6.1,-10.4"/><path transform="translate(9.6,0)" d="M0.3,-8.2C0.8,-9.5 2,-10 3.5,-10C5.5,-10 6.8,-9.1 6.8,-7.6C6.8,-6.1 5.5,-5.3 3.3,-5.3C5.8,-5.3 7.2,-4.3 7.2,-2.6C7.2,-1 5.8,0 3.6,0C1.8,0 0.6,-0.7 0,-1.9"/><path transform="translate(19.4,0)" d="M1.2,-1L0.3,1.4"/><path transform="translate(23.4,0)" d="M0.2,-7.6C0.3,-9.2 1.6,-10 3.5,-10C5.6,-10 6.8,-9 6.8,-7.4C6.8,-5.7 5.3,-4.9 3.5,-4.3C1.3,-3.5 0,-2.5 0,0L7,0"/></g>
<line x1="1075.1" y1="265" x2="1209.3" y2="265" stroke="#a75c9d" stroke-width="1.5" />
<line x1="1075.5" y1="263" x2="1075.5" y2="296" stroke="#a75c9d" stroke-width="1.5" />
<line x1="1209.4" y1="263" x2="1209.4" y2="289" stroke="#a75c9d" stroke-width="1.5" />
<g transform="translate(1132,265) rotate(0) scale(1.5301,1.5500)" stroke="#a75c9d" stroke-width="0.909" fill="none" stroke-linecap="round" stroke-linejoin="round"><path transform="translate(0,0)" d="M0,-10L7,-10L2,0"/><path transform="translate(9.6,0)" d="M6.5,-10L0.8,-10L0.4,-5.8C1.2,-6.3 2.3,-6.6 3.5,-6.6C5.6,-6.6 7,-5.3 7,-3.2C7,-1.2 5.5,0 3.5,0C1.9,0 0.7,-0.6 0,-1.6"/></g>
<line x1="1045.8" y1="296.3" x2="1045.8" y2="429.7" stroke="#a75c9d" stroke-width="1.5" />
<line x1="1043.7" y1="296.2" x2="1075.5" y2="296.2" stroke="#a75c9d" stroke-width="1.5" />
<line x1="1043.7" y1="429.7" x2="1075.4" y2="429.7" stroke="#a75c9d" stroke-width="1.5" />
<g transform="translate(1045.1,369.1) rotate(-90) scale(1.5301,1.5200)" stroke="#a75c9d" stroke-width="0.918" fill="none" stroke-linecap="round" stroke-linejoin="round"><path transform="translate(0,0)" d="M0,-10L7,-10L2,0"/><path transform="translate(9.6,0)" d="M6.5,-10L0.8,-10L0.4,-5.8C1.2,-6.3 2.3,-6.6 3.5,-6.6C5.6,-6.6 7,-5.3 7,-3.2C7,-1.2 5.5,0 3.5,0C1.9,0 0.7,-0.6 0,-1.6"/></g>
<line x1="1075.5" y1="296" x2="1105" y2="313.5" stroke="#a75c9d" stroke-width="1.5" />
<g transform="translate(1102.8,318.5) rotate(31.1) scale(1.0241,1.0600)" stroke="#a75c9d" stroke-width="1.344" fill="none" stroke-linecap="round" stroke-linejoin="round"><path transform="translate(0,0)" d="M0,0L0,-10L3.5,-3L7,-10L7,0"/><path transform="translate(9.6,0)" d="M5.3,0L5.3,-10L0,-3L7,-3"/></g>
<g transform="translate(1129.34,334.51) rotate(31.1) scale(1.2222,1.0600)" stroke="#a75c9d" stroke-width="1.230" fill="none" stroke-linecap="round" stroke-linejoin="round"><path transform="translate(0,0)" d="M6.3,-8.3C5.8,-9.5 4.7,-10 3.3,-10C1.5,-10 0.3,-9 0.3,-7.5C0.3,-5.8 1.9,-5.3 3.3,-5C5,-4.6 6.6,-4 6.6,-2.5C6.6,-0.9 5.2,0 3.3,0C1.6,0 0.5,-0.6 0,-1.8"/><path transform="translate(9.2,0)" d="M6.5,-8.2C6,-9.4 4.9,-10 3.5,-10C1.3,-10 0,-8.2 0,-5C0,-1.8 1.3,0 3.5,0C4.9,0 6,-0.6 6.5,-1.8"/><path transform="translate(18.3,0)" d="M0,0L0,-10L3.5,-10C5.4,-10 6.5,-9 6.5,-7.4C6.5,-5.8 5.4,-4.8 3.5,-4.8L0,-4.8M3.5,-4.8L6.5,0"/><path transform="translate(27.4,0)" d="M6,-10L0,-10L0,0L6,0M0,-5.2L4.5,-5.2"/><path transform="translate(36,0)" d="M0,-10L2.2,0L4.5,-7L6.8,0L9,-10"/></g>
<g transform="translate(1188.68,370.31) rotate(31.1) scale(1.1723,1.0600)" stroke="#a75c9d" stroke-width="1.256" fill="none" stroke-linecap="round" stroke-linejoin="round"><path transform="translate(0,0)" d="M0,0L0,-10L2.8,-10C5.2,-10 6.5,-8 6.5,-5C6.5,-2 5.2,0 2.8,0Z"/><path transform="translate(9.1,0)" d="M0,-6.6L6,-6.6M0,-3.4L6,-3.4"/><path transform="translate(17.7,0)" d="M0.3,-8.2C0.8,-9.5 2,-10 3.5,-10C5.5,-10 6.8,-9.1 6.8,-7.6C6.8,-6.1 5.5,-5.3 3.3,-5.3C5.8,-5.3 7.2,-4.3 7.2,-2.6C7.2,-1 5.8,0 3.6,0C1.8,0 0.6,-0.7 0,-1.9"/><path transform="translate(27.5,0)" d="M0,0L0,-6.5M0,-4.8C0.4,-6 1.1,-6.5 1.9,-6.5C2.9,-6.5 3.5,-5.8 3.5,-4.8L3.5,0M3.5,-4.8C3.9,-6 4.6,-6.5 5.4,-6.5C6.4,-6.5 7,-5.8 7,-4.8L7,0"/><path transform="translate(37.1,0)" d="M0,0L0,-6.5M0,-4.8C0.4,-6 1.1,-6.5 1.9,-6.5C2.9,-6.5 3.5,-5.8 3.5,-4.8L3.5,0M3.5,-4.8C3.9,-6 4.6,-6.5 5.4,-6.5C6.4,-6.5 7,-5.8 7,-4.8L7,0"/></g>
<g transform="translate(1243.06,403.11) rotate(31.1) scale(1.0763,1.0600)" stroke="#a75c9d" stroke-width="1.311" fill="none" stroke-linecap="round" stroke-linejoin="round"><path transform="translate(0,0)" d="M0,0L0,-10L3.5,-3L7,-10L7,0"/><path transform="translate(9.6,0)" d="M0,0L3.5,-10L7,0M1.2,-3.5L5.8,-3.5"/><path transform="translate(19.2,0)" d="M0,-10L7,0M7,-10L0,0"/></g>
<text x="1420.9" y="509.3" font-family="Liberation Sans, sans-serif" font-size="23.8" fill="#231f20" textLength="102.4" lengthAdjust="spacing">UNIT:mm</text></svg>
</body></html>
